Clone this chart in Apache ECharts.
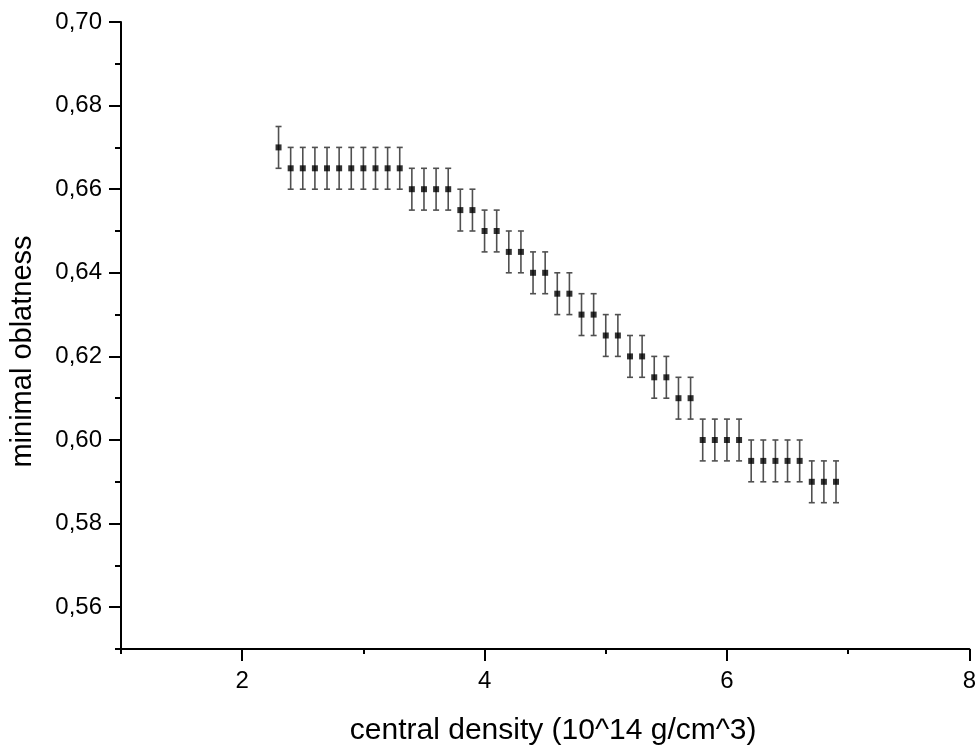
<!DOCTYPE html>
<html><head><meta charset="utf-8">
<script src="https://cdn.jsdelivr.net/npm/echarts@6/dist/echarts.min.js"></script>
<style>html,body{margin:0;padding:0;background:#fff}#c{width:979px;height:751px}</style>
</head><body><div id="c"></div>
<script>
const densities = [2.3,2.4,2.5,2.6,2.7,2.8,2.9,3.0,3.1,3.2,3.3,3.4,3.5,3.6,3.7,3.8,3.9,4.0,4.1,4.2,4.3,4.4,4.5,4.6,4.7,4.8,4.9,5.0,5.1,5.2,5.3,5.4,5.5,5.6,5.7,5.8,5.9,6.0,6.1,6.2,6.3,6.4,6.5,6.6,6.7,6.8,6.9];
const oblatness = [0.670,0.665,0.665,0.665,0.665,0.665,0.665,0.665,0.665,0.665,0.665,0.660,0.660,0.660,0.660,0.655,0.655,0.650,0.650,0.645,0.645,0.640,0.640,0.635,0.635,0.630,0.630,0.625,0.625,0.620,0.620,0.615,0.615,0.610,0.610,0.600,0.600,0.600,0.600,0.595,0.595,0.595,0.595,0.595,0.590,0.590,0.590];
const errors = oblatness.map(() => 0.005);
const xMajorTicks = [2,4,6,8];
const xMinorTicks = [1,3,5,7];
const yMajorTicks = [0.56,0.58,0.60,0.62,0.64,0.66,0.68,0.70];
const yMinorTicks = [0.55,0.57,0.59,0.61,0.63,0.65,0.67,0.69];

const pts = densities.map((x,i)=>[x, oblatness[i]]);
const errData = densities.map((x,i)=>[x, oblatness[i]-errors[i], oblatness[i]+errors[i]]);
const font = 'Liberation Sans, Arial, sans-serif';
const chart = echarts.init(document.getElementById('c'));
const baseX = {type:'value',min:1,max:8,position:'bottom',offset:0,splitLine:{show:false}};
const baseY = {type:'value',min:0.55,max:0.70,position:'left',offset:0,splitLine:{show:false}};
chart.setOption({
  animation:false,
  backgroundColor:'#fff',
  grid:{left:121,right:9,top:22,bottom:93},
  xAxis:[Object.assign({},baseX,{
    name:'central density (10^14 g/cm^3)',nameLocation:'middle',nameGap:67,
    nameTextStyle:{fontFamily:font,fontSize:30,color:'#000',padding:[0,0,0,16]},
    axisLine:{show:true,onZero:false,lineStyle:{color:'#000',width:2}},
    axisTick:{show:true,length:12,customValues:xMajorTicks,lineStyle:{color:'#000',width:2}},
    axisLabel:{margin:20,fontFamily:font,fontSize:24,color:'#000',customValues:xMajorTicks,
      formatter:v=>String(Math.round(v))}}),
    Object.assign({},baseX,{
    axisLine:{show:false,onZero:false},
    axisTick:{show:true,length:5,customValues:xMinorTicks,lineStyle:{color:'#000',width:2}},
    axisLabel:{show:false}})],
  yAxis:[Object.assign({},baseY,{
    name:'minimal oblatness',nameLocation:'middle',nameGap:84,
    nameTextStyle:{fontFamily:font,fontSize:29,color:'#000',padding:[0,32,0,0]},
    axisLine:{show:true,onZero:false,lineStyle:{color:'#000',width:2}},
    axisTick:{show:true,length:12,customValues:yMajorTicks,lineStyle:{color:'#000',width:2}},
    axisLabel:{margin:19,fontFamily:font,fontSize:24,color:'#000',customValues:yMajorTicks,
      formatter:v=>v.toFixed(2).replace('.',',')}}),
    Object.assign({},baseY,{
    axisLine:{show:false,onZero:false},
    axisTick:{show:true,length:6,customValues:yMinorTicks,lineStyle:{color:'#000',width:2}},
    axisLabel:{show:false}})],
  series:[
    {type:'custom',z:2,xAxisIndex:0,yAxisIndex:0,
     renderItem:(params,api)=>{
       const x=api.value(0), lo=api.value(1), hi=api.value(2);
       const pLo=api.coord([x,lo]), pHi=api.coord([x,hi]);
       const c=3, st={stroke:'#505050',lineWidth:1.6};
       return {type:'group',children:[
         {type:'line',shape:{x1:pLo[0],y1:pLo[1],x2:pHi[0],y2:pHi[1]},style:st},
         {type:'line',shape:{x1:pLo[0]-c,y1:pLo[1],x2:pLo[0]+c,y2:pLo[1]},style:st},
         {type:'line',shape:{x1:pHi[0]-c,y1:pHi[1],x2:pHi[0]+c,y2:pHi[1]},style:st}
       ]};
     },
     encode:{x:0,y:[1,2]},
     data:errData},
    {type:'scatter',z:3,xAxisIndex:0,yAxisIndex:0,symbol:'rect',symbolSize:6,itemStyle:{color:'#000'},data:pts}
  ]
});
</script>
</body></html>
